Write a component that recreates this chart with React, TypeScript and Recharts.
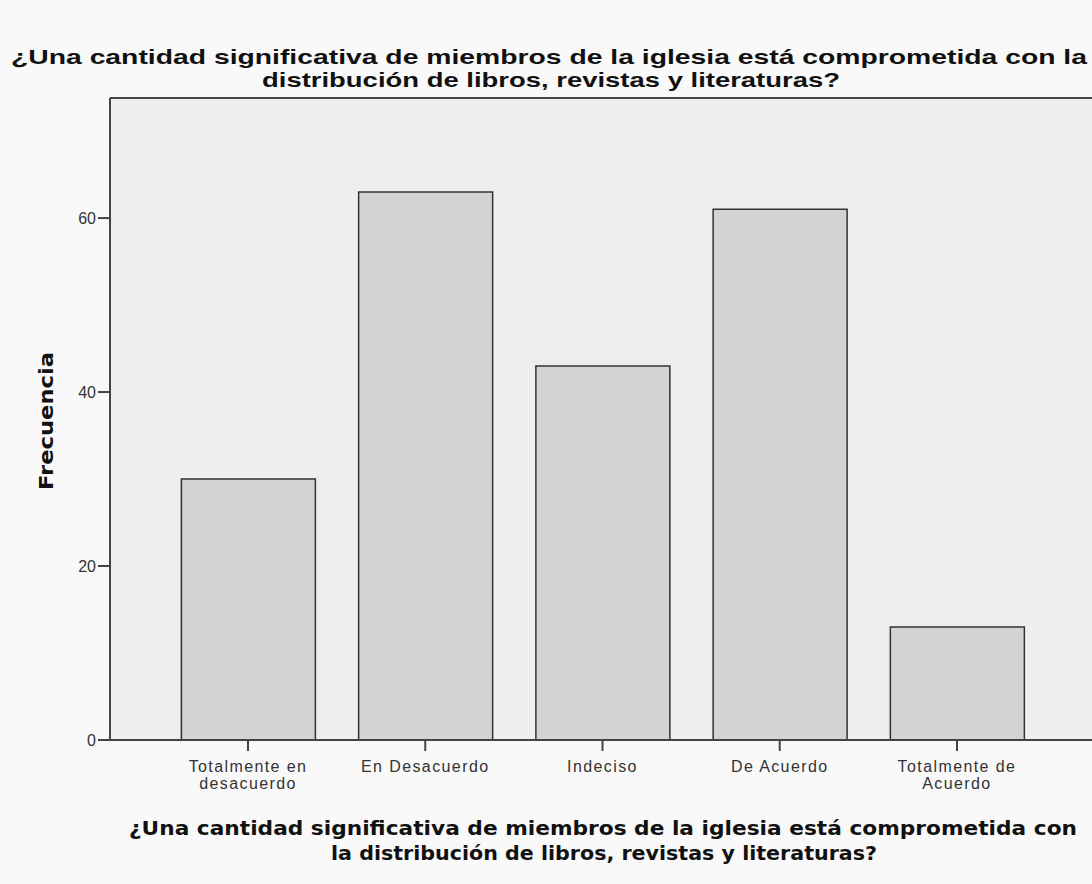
import React from "react";
import { BarChart, Bar, XAxis, YAxis, CartesianGrid, ReferenceLine } from "recharts";

const categories = ["Totalmente en desacuerdo", "En Desacuerdo", "Indeciso", "De Acuerdo", "Totalmente de Acuerdo"];
const frecuencia = [30, 63, 43, 61, 13];
const tickLines = [["Totalmente en", "desacuerdo"], ["En Desacuerdo"], ["Indeciso"], ["De Acuerdo"], ["Totalmente de", "Acuerdo"]];
const yTicks = [0, 20, 40, 60];
const yMax = 73.8;

const chartTitle = [
  "¿Una cantidad significativa de miembros de la iglesia está comprometida con la",
  "distribución de libros, revistas y literaturas?",
];
const xTitle = [
  "¿Una cantidad significativa de miembros de la iglesia está comprometida con",
  "la distribución de libros, revistas y literaturas?",
];

const data = categories.map((c, i) => ({ name: c, value: frecuencia[i] }));

function CategoryTick(props: any) {
  const { x, y, payload } = props;
  const idx = categories.indexOf(payload.value);
  const lines = tickLines[idx] ?? [payload.value];
  return (
    <text x={x} y={y} textAnchor="middle" fill="#333" fontSize={16} letterSpacing={1.4}
      fontFamily="'Liberation Sans', Arial, sans-serif">
      {lines.map((l, i) => (
        <tspan key={i} x={x} dy={i === 0 ? 19 : 17}>{l}</tspan>
      ))}
    </text>
  );
}

export default function App() {
  return (
    <div style={{ position: "absolute", left: 0, top: 0, width: 1092, height: 884, overflow: "hidden", background: "#f9f9f9" }}>
      <BarChart width={1130} height={884} data={data} margin={{ top: 98, right: 0, bottom: 0, left: 50 }} barSize={134}>
        <CartesianGrid fill="#eeeeee" stroke="none" horizontal={false} vertical={false} />
        <XAxis dataKey="name" height={144} interval={0} padding={{ left: 49.4, right: 84.4 }}
          axisLine={{ stroke: "#444", strokeWidth: 2 }} tickLine={{ stroke: "#444", strokeWidth: 2 }} tickSize={11}
          tick={<CategoryTick />} />
        <YAxis width={60} domain={[0, yMax]} ticks={yTicks} allowDataOverflow
          axisLine={{ stroke: "#444", strokeWidth: 2 }} tickLine={{ stroke: "#444", strokeWidth: 2 }} tickSize={12}
          tick={{ fill: "#333", fontSize: 16, fontFamily: "'Liberation Sans', Arial, sans-serif" }} />
        <ReferenceLine y={yMax} stroke="#444" strokeWidth={2} />
        <Bar dataKey="value" fill="#d3d3d3" stroke="#333" strokeWidth={1.5} isAnimationActive={false} />
      </BarChart>
      <svg width={1092} height={884} style={{ position: "absolute", left: 0, top: 0, pointerEvents: "none" }}>
        <g fontFamily="'Liberation Sans', Arial, sans-serif" fontWeight="bold" fontSize={21} fill="#111" textAnchor="middle">
          <text x={549} y={64} textLength={1076} lengthAdjust="spacingAndGlyphs">{chartTitle[0]}</text>
          <text x={551} y={87} textLength={578} lengthAdjust="spacingAndGlyphs">{chartTitle[1]}</text>
        </g>
        <g fontFamily="'DejaVu Sans', sans-serif" fontWeight="bold" fontSize={19} fill="#111" textAnchor="middle">
          <text x={603} y={835} textLength={948} lengthAdjust="spacingAndGlyphs">{xTitle[0]}</text>
          <text x={604} y={860} textLength={546} lengthAdjust="spacingAndGlyphs">{xTitle[1]}</text>
          <text x={53} y={421} fontSize={20} textLength={138} lengthAdjust="spacingAndGlyphs"
            transform="rotate(-90, 53, 421)">Frecuencia</text>
        </g>
      </svg>
    </div>
  );
}
